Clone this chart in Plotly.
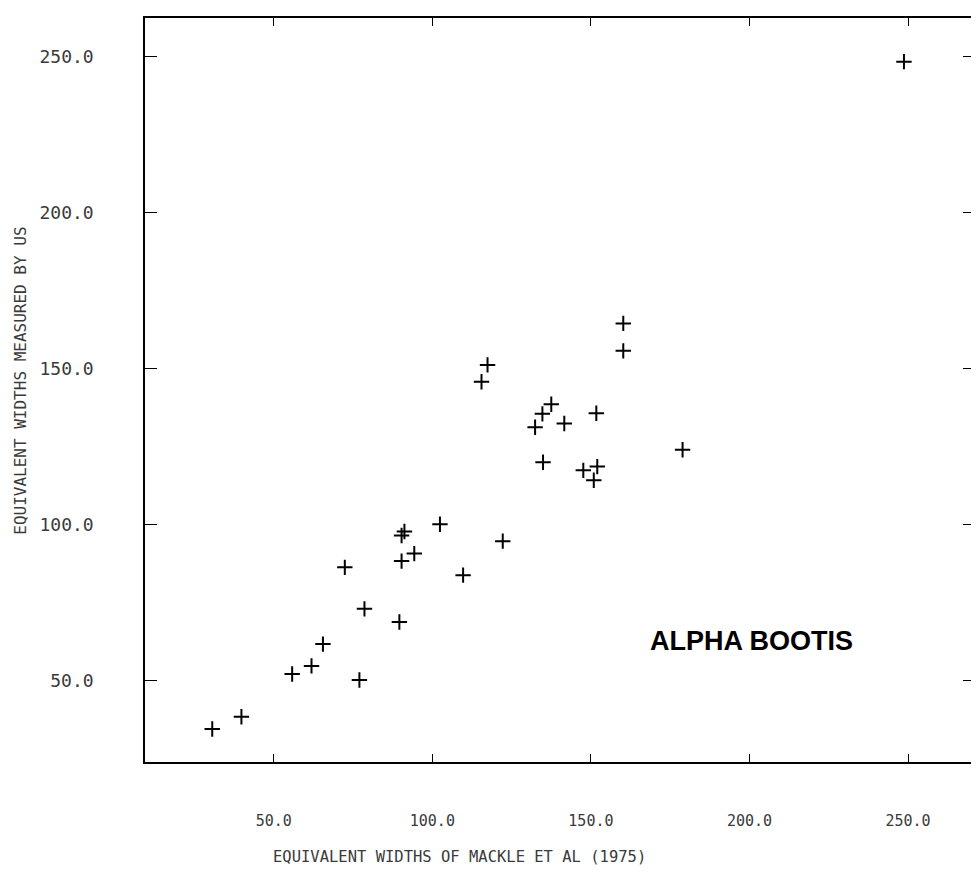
import plotly.graph_objects as go

# Equivalent widths: Mackle et al (1975) vs measured by us
mackle_ew = [30.6, 39.8, 55.8, 61.9, 65.5, 72.4, 77.0, 78.6, 89.6, 90.3,
             90.3, 91.2, 94.3, 102.4, 109.7, 115.5, 117.4, 122.2, 132.4, 134.7,
             134.9, 137.5, 141.6, 147.6, 150.9, 151.7, 152.0, 160.2, 160.2, 178.9,
             248.7]
our_ew = [34.6, 38.5, 52.2, 54.8, 61.8, 86.4, 50.3, 73.1, 68.9, 88.4,
          96.6, 97.9, 90.8, 100.2, 83.9, 145.9, 151.3, 94.8, 131.3, 135.6,
          120.1, 138.7, 132.5, 117.5, 114.3, 135.8, 118.7, 164.6, 155.8, 124.1,
          248.5]

x_ticks = [50, 100, 150, 200, 250]
x_tick_labels = ["50.0", "100.0", "150.0", "200.0", "250.0"]
y_ticks = [50, 100, 150, 200, 250]
y_tick_labels = ["50.0", "100.0", "150.0", "200.0", "250.0"]

x_title = "EQUIVALENT WIDTHS OF MACKLE ET AL (1975)"
y_title = "EQUIVALENT WIDTHS MEASURED BY US"
star_label = "ALPHA BOOTIS"

fig = go.Figure()
fig.add_trace(go.Scatter(
    x=mackle_ew, y=our_ew, mode="markers",
    marker=dict(symbol="cross-thin", size=11, line=dict(width=2, color="black"), color="black"),
    showlegend=False, hoverinfo="x+y",
))

fig.update_layout(
    width=971, height=868,
    margin=dict(l=137, r=2, t=10, b=114),
    paper_bgcolor="white", plot_bgcolor="white",
    xaxis=dict(
        range=[9.4, 271.1], tickvals=x_ticks, ticktext=x_tick_labels,
        ticks="inside", ticklen=8, tickwidth=1.2, tickcolor="black",
        showline=True, linecolor="black", linewidth=1.5, mirror="ticks",
        showgrid=False, zeroline=False,
        tickfont=dict(family="DejaVu Sans Mono", size=15, color="#3a3a3a"),
        ticklabelstandoff=44,
    ),
    yaxis=dict(
        range=[24.0, 262.5], tickvals=y_ticks, ticktext=y_tick_labels,
        ticks="inside", ticklen=12, tickwidth=1.2, tickcolor="black",
        showline=True, linecolor="black", linewidth=1.5, mirror="ticks",
        showgrid=False, zeroline=False,
        tickfont=dict(family="DejaVu Sans Mono", size=18, color="#3a3a3a"),
        ticklabelstandoff=46,
    ),
    annotations=[
        dict(text=x_title, xref="paper", yref="paper", x=0.379, y=-0.128,
             showarrow=False, xanchor="center", yanchor="middle",
             font=dict(family="DejaVu Sans Mono", size=15.5, color="#3a3a3a")),
        dict(text=y_title, xref="paper", yref="paper", x=-0.151, y=0.512,
             showarrow=False, xanchor="center", yanchor="middle", textangle=-90,
             font=dict(family="DejaVu Sans Mono", size=16, color="#3a3a3a")),
        dict(text="<b>" + star_label + "</b>", xref="x", yref="y", x=200.6, y=62.8,
             showarrow=False, xanchor="center", yanchor="middle",
             font=dict(family="Liberation Sans", size=27, color="black")),
    ],
)

fig.write_html("out.html")
